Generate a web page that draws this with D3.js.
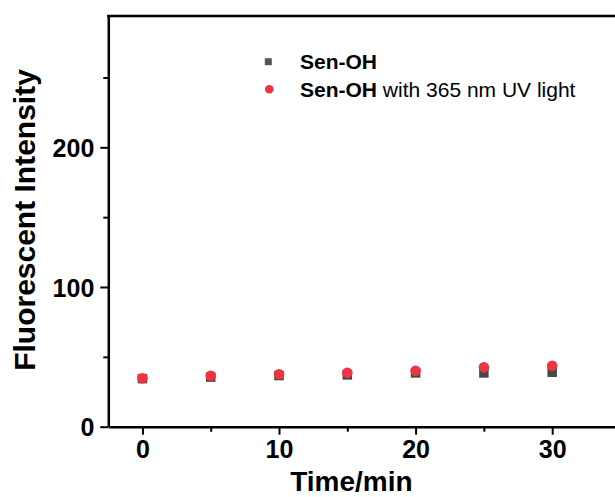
<!DOCTYPE html>
<html>
<head>
<meta charset="utf-8">
<style>
body { margin: 0; background: #fff; }
svg { display: block; font-family: Arial, "Liberation Sans", sans-serif; }
</style>
</head>
<body>
<div id="chart"></div>
<script src="https://d3js.org/d3.v7.min.js"></script>
<script>
// data
const times = [0, 5, 10, 15, 20, 25, 30];
const senOH = [34.4, 35.5, 36.6, 37.1, 38.5, 38.5, 39.0];
const senOHuv = [34.6, 36.5, 37.5, 38.6, 40.0, 42.5, 43.6];
const xMajor = [0, 10, 20, 30];
const xMinor = [5, 15, 25];
const yMajor = [0, 100, 200];
const yMinor = [50, 150, 250];
const legendLabels = ["Sen-OH", "Sen-OH"];

const width = 615, height = 497;
const plotLeft = 108.3, plotRight = 615, plotTop = 16, plotBottom = 426.7;

const svg = d3.select("#chart").append("svg")
  .attr("width", width)
  .attr("height", height);

const x = d3.scaleLinear().domain([-2.5, 34.6]).range([plotLeft, plotRight]);
const y = d3.scaleLinear().domain([0, 294]).range([plotBottom, plotTop]);

const axisStroke = 2.5;

// minor ticks first (no labels)
svg.append("g")
  .attr("transform", `translate(0,${plotBottom})`)
  .call(d3.axisBottom(x).tickValues(xMinor).tickSize(5).tickFormat(""))
  .call(g => g.select(".domain").remove());
svg.append("g")
  .attr("transform", `translate(${plotLeft},0)`)
  .call(d3.axisLeft(y).tickValues(yMinor).tickSize(5).tickFormat(""))
  .call(g => g.select(".domain").remove());

// major axes
const xAxis = svg.append("g")
  .attr("transform", `translate(0,${plotBottom})`)
  .call(d3.axisBottom(x).tickValues(xMajor).tickSize(8).tickSizeOuter(0).tickPadding(4));
const yAxis = svg.append("g")
  .attr("transform", `translate(${plotLeft},0)`)
  .call(d3.axisLeft(y).tickValues(yMajor).tickSize(8).tickSizeOuter(0).tickPadding(6));

svg.selectAll(".tick line").attr("stroke", "#000").attr("stroke-width", 2);
svg.selectAll(".domain").attr("stroke", "#000").attr("stroke-width", axisStroke);

xAxis.selectAll("text")
  .attr("font-size", 25).attr("font-weight", "bold").attr("fill", "#000")
  .attr("font-family", "Arial, 'Liberation Sans', sans-serif")
  .attr("dy", "0.78em");
yAxis.selectAll("text")
  .attr("font-size", 25).attr("font-weight", "bold").attr("fill", "#000")
  .attr("font-family", "Arial, 'Liberation Sans', sans-serif")
  .attr("dy", "0.36em");

// top border
svg.append("line")
  .attr("x1", plotLeft - axisStroke / 2).attr("x2", plotRight)
  .attr("y1", plotTop).attr("y2", plotTop)
  .attr("stroke", "#000").attr("stroke-width", axisStroke);

// series: squares then circles on top
const sq = 9.5;
svg.append("g").selectAll("rect")
  .data(times.map((t, i) => ({ t, v: senOH[i] })))
  .join("rect")
  .attr("x", d => x(d.t) - sq / 2)
  .attr("y", d => y(d.v) - sq / 2)
  .attr("width", sq).attr("height", sq)
  .attr("fill", "#474747");

svg.append("g").selectAll("circle")
  .data(times.map((t, i) => ({ t, v: senOHuv[i] })))
  .join("circle")
  .attr("cx", d => x(d.t))
  .attr("cy", d => y(d.v))
  .attr("r", 5.3)
  .attr("fill", "#ef3340");

// axis titles
svg.append("text")
  .attr("x", x(15.3)).attr("y", 491)
  .attr("text-anchor", "middle")
  .attr("font-size", 28).attr("font-weight", "bold")
  .text("Time/min");

svg.append("text")
  .attr("transform", `translate(35,${220}) rotate(-90)`)
  .attr("text-anchor", "middle")
  .attr("font-size", 30).attr("font-weight", "bold")
  .text("Fluorescent Intensity");

// legend
const lg = svg.append("g");
lg.append("rect")
  .attr("x", 268.3 - 3.5).attr("y", 61.7 - 3.5)
  .attr("width", 7).attr("height", 7)
  .attr("fill", "#555");
lg.append("circle")
  .attr("cx", 269.3).attr("cy", 89.3).attr("r", 4.3)
  .attr("fill", "#ef3340");
lg.append("text")
  .attr("x", 300).attr("y", 68.5)
  .attr("font-size", 21).attr("font-weight", "bold")
  .text(legendLabels[0]);
const t2 = lg.append("text")
  .attr("x", 300).attr("y", 96.5)
  .attr("font-size", 21);
t2.append("tspan").attr("font-weight", "bold").text(legendLabels[1]);
t2.append("tspan").text(" with 365 nm UV light");
</script>
</body>
</html>
